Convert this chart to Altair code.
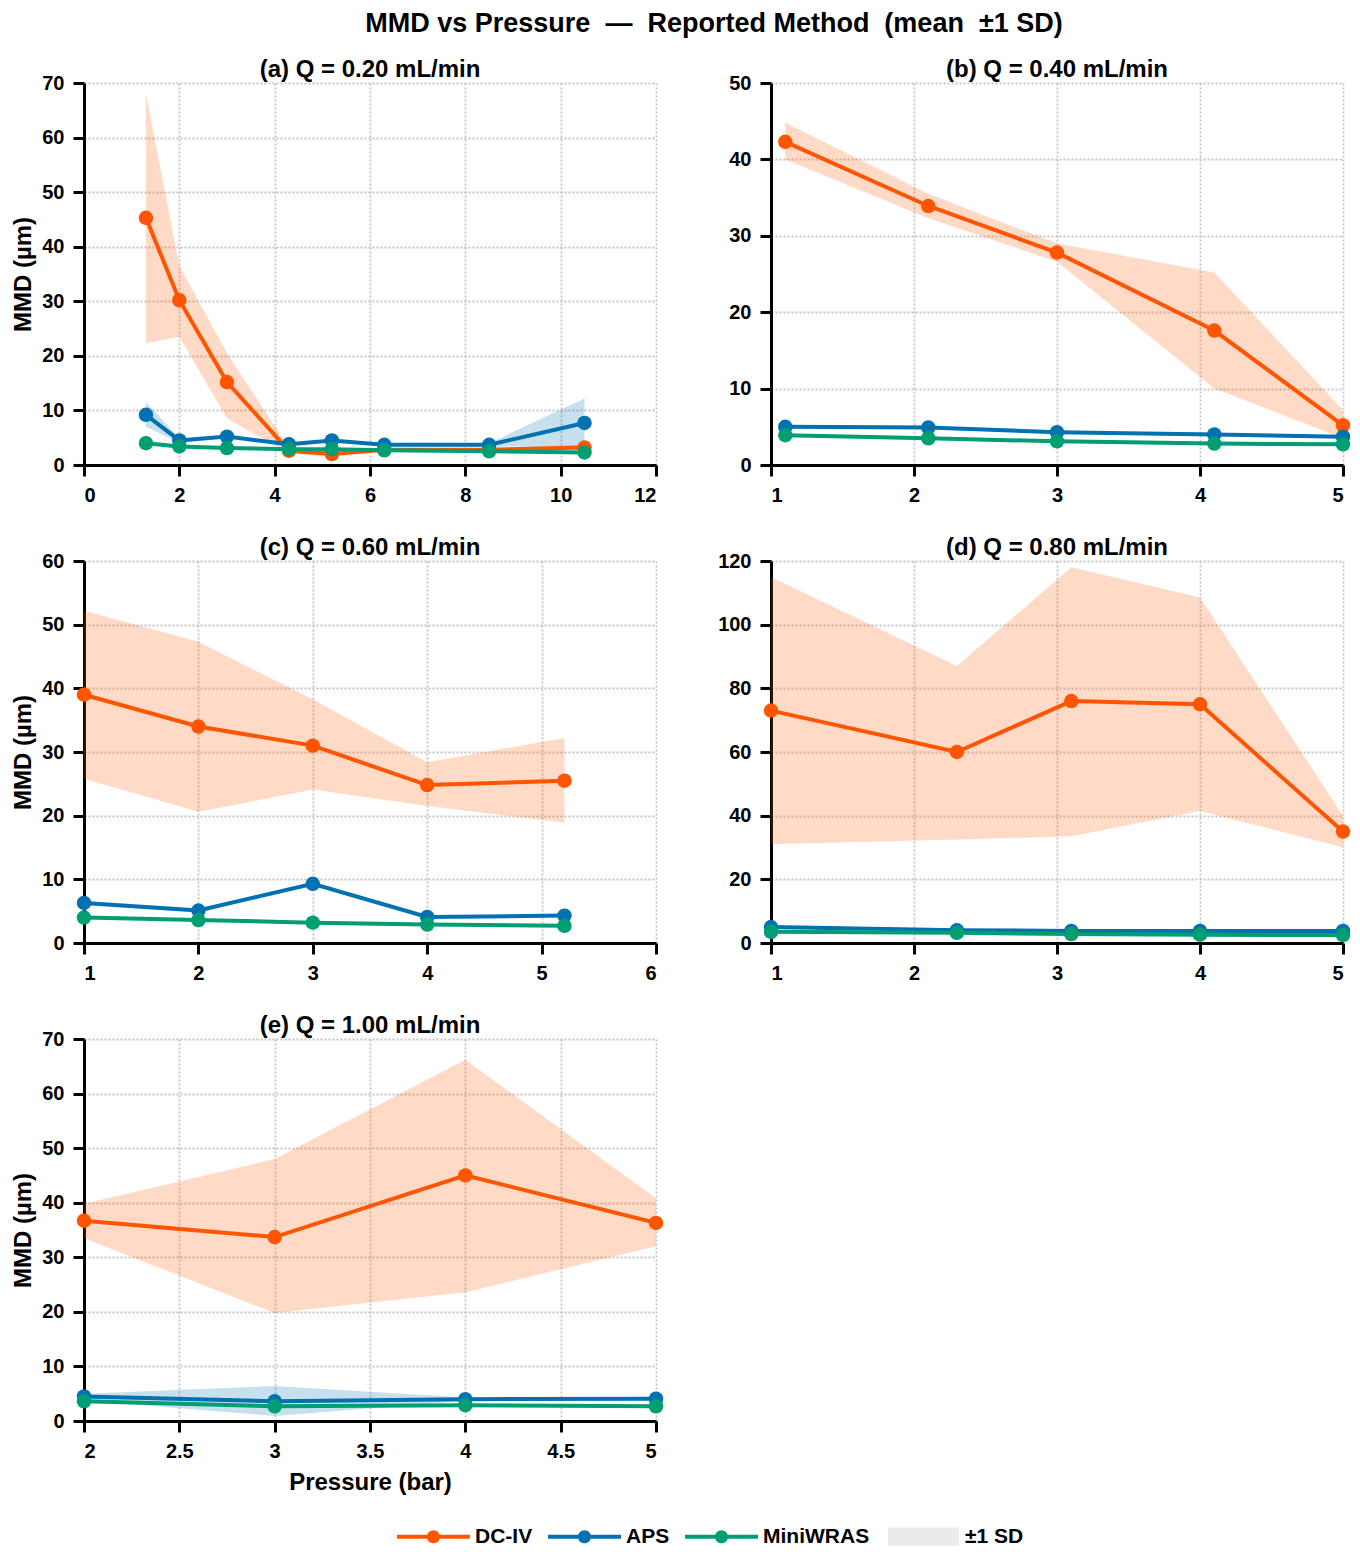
import altair as alt
import pandas as pd

SERIES = ["DC-IV", "APS", "MiniWRAS"]
COLORS = ["#FF5500", "#0072B2", "#009E73"]
SD_LABEL = "±1 SD"
SD_COLOR = "#EBEBEB"

# ---- (a) Q = 0.20 mL/min ----
A_P = [1.3, 2, 3, 4.3, 5.2, 6.3, 8.5, 10.5]
A_DC_M = [45.3, 30.2, 15.2, 2.6, 2.0, 2.8, 2.8, 3.2]
A_DC_LO = [22.3, 23.5, 8.5, 2.1, 1.5, 2.5, 2.5, 2.7]
A_DC_HI = [68.0, 36.5, 20.5, 3.1, 2.5, 3.1, 3.1, 3.7]
A_APS_M = [9.2, 4.5, 5.2, 3.8, 4.5, 3.7, 3.7, 7.7]
A_APS_LO = [7.0, 4.1, 4.9, 3.6, 4.3, 3.5, 3.4, 3.3]
A_APS_HI = [11.5, 4.9, 5.5, 4.0, 4.7, 3.9, 4.0, 12.2]
A_MW_M = [4.0, 3.4, 3.1, 2.9, 2.9, 2.7, 2.5, 2.3]
A_MW_LO = [3.8, 3.2, 2.9, 2.7, 2.7, 2.5, 2.3, 2.1]
A_MW_HI = [4.2, 3.6, 3.3, 3.1, 3.1, 2.9, 2.7, 2.5]

# ---- (b) Q = 0.40 mL/min ----
B_P = [1.1, 2.1, 3.0, 4.1, 5.0]
B_DC_M = [42.3, 33.9, 27.8, 17.6, 5.2]
B_DC_LO = [40.0, 32.3, 26.6, 10.0, 3.5]
B_DC_HI = [44.8, 35.5, 29.0, 25.2, 7.2]
B_APS_M = [5.0, 4.9, 4.3, 4.0, 3.7]
B_APS_LO = [4.8, 4.7, 4.1, 3.8, 3.5]
B_APS_HI = [5.2, 5.1, 4.5, 4.2, 3.9]
B_MW_M = [3.9, 3.5, 3.1, 2.8, 2.7]
B_MW_LO = [3.7, 3.3, 2.9, 2.6, 2.5]
B_MW_HI = [4.1, 3.7, 3.3, 3.0, 2.9]

# ---- (c) Q = 0.60 mL/min ----
C_P = [1, 2, 3, 4, 5.2]
C_DC_M = [39.0, 34.0, 31.0, 24.8, 25.5]
C_DC_LO = [25.8, 20.6, 24.1, 21.5, 18.9]
C_DC_HI = [52.2, 47.3, 38.3, 28.4, 32.2]
C_APS_M = [6.3, 5.1, 9.3, 4.1, 4.3]
C_APS_LO = [6.0, 4.8, 9.0, 3.9, 4.1]
C_APS_HI = [6.6, 5.4, 9.6, 4.3, 4.5]
C_MW_M = [4.0, 3.6, 3.2, 2.9, 2.7]
C_MW_LO = [3.8, 3.4, 3.0, 2.7, 2.5]
C_MW_HI = [4.2, 3.8, 3.4, 3.1, 2.9]

# ---- (d) Q = 0.80 mL/min ----
D_P = [1, 2.3, 3.1, 4, 5]
D_DC_M = [73.0, 60.0, 76.0, 75.0, 35.0]
D_DC_LO = [31.0, 32.5, 33.5, 41.5, 30.0]
D_DC_HI = [115.0, 87.0, 118.0, 108.5, 40.0]
D_APS_M = [5.0, 4.0, 3.8, 3.8, 3.8]
D_APS_LO = [4.6, 3.7, 3.5, 3.5, 3.5]
D_APS_HI = [5.4, 4.3, 4.1, 4.1, 4.1]
D_MW_M = [3.5, 3.2, 2.8, 2.6, 2.5]
D_MW_LO = [3.2, 2.9, 2.5, 2.3, 2.2]
D_MW_HI = [3.8, 3.5, 3.1, 2.9, 2.8]

# ---- (e) Q = 1.00 mL/min ----
E_P = [2, 3, 4, 5]
E_DC_M = [36.7, 33.7, 45.0, 36.3]
E_DC_LO = [33.5, 19.8, 23.6, 32.0]
E_DC_HI = [39.8, 48.0, 66.2, 40.8]
E_APS_M = [4.5, 3.6, 4.0, 4.1]
E_APS_LO = [3.8, 0.9, 3.7, 3.9]
E_APS_HI = [5.0, 6.4, 4.3, 4.3]
E_MW_M = [3.6, 2.7, 2.9, 2.7]
E_MW_LO = [3.4, 2.5, 2.7, 2.5]
E_MW_HI = [3.8, 2.9, 3.1, 2.9]

FONT = "Liberation Sans"
NB = "\u00a0"

LINE_DOT = "M-1,-0.055L1,-0.055L1,0.055L-1,0.055Z M0.18,0A0.18,0.18 0 1,1 -0.18,0A0.18,0.18 0 1,1 0.18,0Z"
RECT = "M-0.97,-0.25L0.97,-0.25L0.97,0.25L-0.97,0.25Z"


def build_df(p, groups):
    rows = []
    for name, (m, lo, hi) in zip(SERIES, groups):
        for i in range(len(p)):
            rows.append({"series": name, "p": p[i], "m": m[i], "lo": lo[i], "hi": hi[i], "sd": SD_LABEL})
    return pd.DataFrame(rows)


LEG_Y = 1417

common_legend = dict(
    orient="none",
    direction="horizontal",
    title=None,
    labelFontSize=21,
    labelFont=FONT,
    labelFontWeight="bold",
    labelColor="black",
    symbolSize=5329,
    labelOffset=5,
    columnPadding=15,
    symbolStrokeWidth=0,
    symbolOpacity=1,
    legendY=LEG_Y,
)

color_enc = alt.Color(
    "series:N",
    scale=alt.Scale(domain=SERIES, range=COLORS),
    legend=alt.Legend(symbolType=LINE_DOT, legendX=313, **common_legend),
)

opacity_enc = alt.Opacity(
    "sd:N",
    scale=alt.Scale(domain=[SD_LABEL], range=[1]),
    legend=alt.Legend(symbolType=RECT, symbolFillColor=SD_COLOR, legendX=803, **common_legend),
)


def panel(df, title, xdom, xvals, ydom, yvals, ytitle, xtitle):
    x = alt.X(
        "p:Q",
        scale=alt.Scale(domain=xdom, nice=False, zero=False),
        axis=alt.Axis(values=xvals, format=".1~f", title=xtitle),
    )
    yaxis = alt.Axis(values=yvals, format=".1~f", title=ytitle)
    band = alt.Chart(df).mark_area(fillOpacity=0.22).encode(
        x=x,
        y=alt.Y("lo:Q", scale=alt.Scale(domain=ydom, nice=False), axis=yaxis),
        y2="hi:Q",
        color=color_enc,
        opacity=opacity_enc,
    )
    line = alt.Chart(df).mark_line(
        strokeWidth=4,
        point=alt.OverlayMarkDef(filled=True, size=210, opacity=1),
    ).encode(
        x=x,
        y=alt.Y("m:Q", scale=alt.Scale(domain=ydom, nice=False), axis=yaxis),
        color=color_enc,
    )
    return alt.layer(band, line).properties(
        width=572,
        height=382,
        title=alt.TitleParams(title, fontSize=24, fontWeight="bold", font=FONT, offset=-9),
    )


pa = panel(build_df(A_P, [(A_DC_M, A_DC_LO, A_DC_HI), (A_APS_M, A_APS_LO, A_APS_HI), (A_MW_M, A_MW_LO, A_MW_HI)]),
           "(a) Q = 0.20 mL/min", [0, 12], [0, 2, 4, 6, 8, 10, 12], [0, 70], [0, 10, 20, 30, 40, 50, 60, 70], "MMD (µm)", None)
pb = panel(build_df(B_P, [(B_DC_M, B_DC_LO, B_DC_HI), (B_APS_M, B_APS_LO, B_APS_HI), (B_MW_M, B_MW_LO, B_MW_HI)]),
           "(b) Q = 0.40 mL/min", [1, 5], [1, 2, 3, 4, 5], [0, 50], [0, 10, 20, 30, 40, 50], None, None)
pc = panel(build_df(C_P, [(C_DC_M, C_DC_LO, C_DC_HI), (C_APS_M, C_APS_LO, C_APS_HI), (C_MW_M, C_MW_LO, C_MW_HI)]),
           "(c) Q = 0.60 mL/min", [1, 6], [1, 2, 3, 4, 5, 6], [0, 60], [0, 10, 20, 30, 40, 50, 60], "MMD (µm)", None)
pd_ = panel(build_df(D_P, [(D_DC_M, D_DC_LO, D_DC_HI), (D_APS_M, D_APS_LO, D_APS_HI), (D_MW_M, D_MW_LO, D_MW_HI)]),
            "(d) Q = 0.80 mL/min", [1, 5], [1, 2, 3, 4, 5], [0, 120], [0, 20, 40, 60, 80, 100, 120], None, None)
pe = panel(build_df(E_P, [(E_DC_M, E_DC_LO, E_DC_HI), (E_APS_M, E_APS_LO, E_APS_HI), (E_MW_M, E_MW_LO, E_MW_HI)]),
           "(e) Q = 1.00 mL/min", [2, 5], [2, 2.5, 3, 3.5, 4, 4.5, 5], [0, 70], [0, 10, 20, 30, 40, 50, 60, 70], "MMD (µm)", "Pressure (bar)")

chart = alt.concat(
    pa, pb, pc, pd_, pe,
    columns=2,
    spacing={"row": 31, "column": 53},
).properties(
    title=alt.TitleParams(
        "MMD vs Pressure" + NB + " —" + NB + " Reported Method" + NB + " (mean" + NB + " ±1 SD)",
        fontSize=27, fontWeight="bold", font=FONT, anchor="middle", offset=20, dx=33,
    ),
    padding={"left": 3, "top": 2, "right": 0, "bottom": 0},
).configure_view(stroke=None).configure_axis(
    labelFont=FONT,
    labelFontSize=20,
    labelFontWeight="bold",
    labelColor="black",
    labelPadding=9,
    titleFont=FONT,
    titleFontSize=24,
    titleFontWeight="bold",
    titleColor="black",
    domainColor="black",
    domainWidth=3,
    tickColor="black",
    tickWidth=3,
    tickSize=11,
    gridColor="#C4C4C4",
    gridDash=[2, 2],
    gridWidth=1.8,
).configure_axisY(
    minExtent=44, maxExtent=44, titlePadding=5,
).configure_axisX(
    minExtent=40, maxExtent=40, titlePadding=9,
)

chart.save("out.html", embed_options={"renderer": "svg", "actions": False})
